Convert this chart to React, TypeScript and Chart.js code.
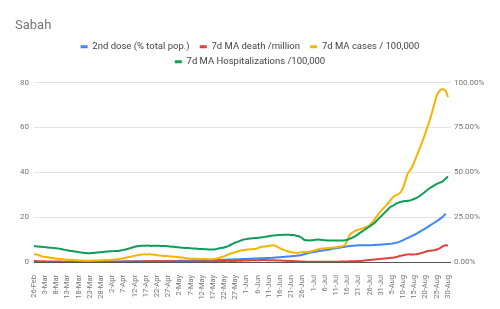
import React, { useEffect, useRef } from 'react';
import { Chart, registerables } from 'chart.js';

Chart.register(...registerables);

const TITLE = 'Sabah';
const MONTHS = ['Jan', 'Feb', 'Mar', 'Apr', 'May', 'Jun', 'Jul', 'Aug', 'Sep', 'Oct', 'Nov', 'Dec'];

const tickLabels = [
  '26-Feb', '3-Mar', '8-Mar', '13-Mar', '18-Mar', '23-Mar', '28-Mar', '2-Apr', '7-Apr', '12-Apr',
  '17-Apr', '22-Apr', '27-Apr', '2-May', '7-May', '12-May', '17-May', '22-May', '27-May', '1-Jun',
  '6-Jun', '11-Jun', '16-Jun', '21-Jun', '26-Jun', '1-Jul', '6-Jul', '11-Jul', '16-Jul', '21-Jul',
  '26-Jul', '31-Jul', '5-Aug', '10-Aug', '15-Aug', '20-Aug', '25-Aug', '30-Aug',
];

const seriesNames = [
  '2nd dose (% total pop.)',
  '7d MA death /million',
  '7d MA cases / 100,000',
  '7d MA Hospitalizations /100,000',
];

// 2nd dose, % of total population (right axis)
const secondDose = [
  0, 0, 0, 0, 0, 0, 0, 0, 0, 0,
  0, 0, 0, 0, 0, 0, 0, 0, 0, 0,
  0.02, 0.03, 0.05, 0.06, 0.08, 0.09, 0.1, 0.11, 0.12, 0.13,
  0.15, 0.16, 0.18, 0.19, 0.2, 0.22, 0.23, 0.24, 0.26, 0.27,
  0.28, 0.3, 0.31, 0.32, 0.33, 0.35, 0.36, 0.37, 0.38, 0.39,
  0.4, 0.41, 0.42, 0.43, 0.44, 0.45, 0.46, 0.47, 0.48, 0.5,
  0.52, 0.55, 0.57, 0.6, 0.62, 0.65, 0.67, 0.7, 0.72, 0.74,
  0.76, 0.78, 0.8, 0.82, 0.84, 0.86, 0.88, 0.9, 0.92, 0.95,
  1.0, 1.05, 1.1, 1.15, 1.2, 1.25, 1.3, 1.35, 1.4, 1.45,
  1.5, 1.55, 1.6, 1.65, 1.7, 1.75, 1.8, 1.85, 1.9, 1.95,
  2.0, 2.05, 2.1, 2.15, 2.2, 2.25, 2.3, 2.4, 2.5, 2.6,
  2.7, 2.8, 2.9, 3.0, 3.1, 3.2, 3.3, 3.45, 3.6, 3.75,
  4.0, 4.4, 4.8, 5.1, 5.4, 5.6, 5.8, 6.0, 6.2, 6.4,
  6.6, 6.8, 7.0, 7.3, 7.5, 7.7, 7.9, 8.1, 8.3, 8.5,
  8.7, 8.9, 9.0, 9.1, 9.2, 9.3, 9.3, 9.3, 9.3, 9.3,
  9.4, 9.4, 9.5, 9.6, 9.6, 9.7, 9.8, 9.9, 10.0, 10.1,
  10.3, 10.5, 10.8, 11.1, 11.6, 12.2, 12.9, 13.4, 14.0, 14.6,
  15.2, 15.8, 16.6, 17.3, 18.0, 18.8, 19.6, 20.4, 21.2, 22.0,
  22.8, 23.6, 24.6, 25.7, 26.9, null,
];

// 7-day MA deaths per million (left axis)
const deaths = [
  0.4, 0.4, 0.3, 0.3, 0.3, 0.3, 0.2, 0.2, 0.2, 0.2,
  0.2, 0.2, 0.2, 0.1, 0.1, 0.1, 0.1, 0.1, 0.1, 0.1,
  0.1, 0.1, 0.1, 0.1, 0.1, 0.1, 0.1, 0.1, 0.1, 0.1,
  0.1, 0.1, 0.1, 0.1, 0.1, 0.1, 0.1, 0.1, 0.1, 0.1,
  0.2, 0.2, 0.2, 0.2, 0.2, 0.2, 0.2, 0.2, 0.2, 0.2,
  0.3, 0.3, 0.3, 0.3, 0.3, 0.3, 0.3, 0.3, 0.3, 0.3,
  0.3, 0.3, 0.3, 0.3, 0.2, 0.2, 0.2, 0.2, 0.2, 0.2,
  0.2, 0.2, 0.2, 0.2, 0.2, 0.3, 0.3, 0.3, 0.3, 0.3,
  0.3, 0.3, 0.4, 0.4, 0.4, 0.4, 0.5, 0.5, 0.5, 0.5,
  0.5, 0.6, 0.6, 0.6, 0.7, 0.7, 0.7, 0.8, 0.8, 0.8,
  0.8, 0.8, 0.9, 0.9, 0.8, 0.8, 0.8, 0.8, 0.7, 0.7,
  0.7, 0.6, 0.6, 0.5, 0.5, 0.4, 0.4, 0.3, 0.3, 0.2,
  0.2, 0.2, 0.1, 0.1, 0.1, 0.1, 0.1, 0.1, 0.1, 0.1,
  0.1, 0.1, 0.1, 0.1, 0.1, 0.1, 0.1, 0.2, 0.2, 0.2,
  0.2, 0.3, 0.3, 0.3, 0.4, 0.5, 0.5, 0.6, 0.7, 0.8,
  0.9, 1.0, 1.1, 1.2, 1.3, 1.4, 1.5, 1.6, 1.7, 1.8,
  1.9, 2.0, 2.2, 2.6, 2.8, 3.0, 3.2, 3.4, 3.4, 3.4,
  3.4, 3.5, 3.7, 4.0, 4.2, 4.6, 4.9, 5.0, 5.1, 5.3,
  5.6, 6.0, 6.6, 7.2, 7.5, 7.3,
];

// 7-day MA cases per 100,000 (left axis)
const cases = [
  3.3, 3.4, 3.1, 2.7, 2.3, 2.2, 2.1, 2.0, 1.8, 1.7,
  1.5, 1.4, 1.3, 1.2, 1.1, 1.0, 0.9, 0.9, 0.8, 0.8,
  0.7, 0.7, 0.6, 0.6, 0.6, 0.6, 0.6, 0.7, 0.7, 0.7,
  0.8, 0.8, 0.9, 0.9, 1.0, 1.0, 1.1, 1.2, 1.3, 1.5,
  1.7, 1.9, 2.1, 2.3, 2.5, 2.8, 3.0, 3.2, 3.3, 3.4,
  3.4, 3.4, 3.4, 3.3, 3.2, 3.0, 2.9, 2.8, 2.7, 2.7,
  2.6, 2.5, 2.4, 2.3, 2.2, 2.1, 2.0, 1.9, 1.7, 1.6,
  1.5, 1.5, 1.4, 1.4, 1.3, 1.3, 1.3, 1.3, 1.2, 1.2,
  1.3, 1.3, 1.6, 1.9, 2.2, 2.6, 3.0, 3.4, 3.8, 4.1,
  4.4, 4.7, 5.0, 5.2, 5.4, 5.5, 5.6, 5.7, 5.8, 5.8,
  6.2, 6.6, 6.8, 6.9, 7.0, 7.2, 7.4, 7.5, 7.2, 6.6,
  6.1, 5.6, 5.2, 4.9, 4.6, 4.4, 4.2, 4.1, 4.0, 4.3,
  4.4, 4.5, 4.5, 4.6, 4.8, 5.1, 5.4, 5.7, 5.9, 6.0,
  6.1, 6.2, 6.3, 6.4, 6.5, 6.6, 6.8, 6.9, 7.1, 7.6,
  9.5, 11.9, 12.9, 13.6, 14.1, 14.4, 14.7, 15.0, 15.4, 15.8,
  16.5, 17.5, 18.7, 20.1, 21.5, 22.7, 23.8, 24.8, 25.9, 27.2,
  28.4, 29.3, 29.9, 30.3, 31.3, 33.3, 36.3, 39.5, 40.8, 42.5,
  44.8, 47.3, 49.8, 52.4, 55.0, 57.8, 60.8, 63.7, 67.2, 70.8,
  74.4, 76.0, 77.0, 77.0, 76.3, 73.5,
];

// 7-day MA hospitalizations per 100,000 (left axis)
const hospitalizations = [
  7.1, 7.0, 6.9, 6.8, 6.7, 6.6, 6.5, 6.4, 6.3, 6.2,
  6.1, 6.0, 5.8, 5.6, 5.4, 5.2, 5.0, 4.9, 4.7, 4.6,
  4.4, 4.2, 4.1, 4.0, 3.9, 3.9, 4.0, 4.1, 4.2, 4.3,
  4.4, 4.5, 4.6, 4.7, 4.8, 4.8, 4.9, 4.9, 5.0, 5.2,
  5.4, 5.6, 5.9, 6.2, 6.5, 6.8, 7.0, 7.1, 7.2, 7.2,
  7.3, 7.3, 7.2, 7.2, 7.3, 7.2, 7.2, 7.1, 7.1, 7.1,
  7.0, 6.9, 6.8, 6.7, 6.6, 6.5, 6.4, 6.3, 6.2, 6.2,
  6.1, 6.0, 6.0, 5.9, 5.8, 5.8, 5.7, 5.7, 5.6, 5.6,
  5.6, 5.7, 5.9, 6.1, 6.3, 6.5, 6.8, 7.2, 7.7, 8.2,
  8.7, 9.0, 9.4, 9.8, 10.1, 10.3, 10.4, 10.5, 10.6, 10.7,
  10.8, 10.9, 11.0, 11.2, 11.3, 11.5, 11.7, 11.8, 11.9, 12.0,
  12.0, 12.1, 12.1, 12.1, 12.1, 12.0, 12.0, 11.8, 11.6, 11.2,
  10.5, 9.8, 9.7, 9.6, 9.7, 9.8, 9.9, 10.0, 9.9, 9.8,
  9.7, 9.6, 9.6, 9.6, 9.6, 9.6, 9.6, 9.6, 9.6, 9.7,
  9.9, 10.3, 10.7, 11.2, 11.8, 12.5, 13.2, 13.9, 14.6, 15.2,
  15.9, 16.6, 17.3, 18.3, 19.3, 20.3, 21.3, 22.3, 23.3, 24.3,
  24.9, 25.5, 26.1, 26.5, 26.8, 27.1, 27.2, 27.3, 27.4, 27.8,
  28.2, 28.6, 29.2, 29.9, 30.7, 31.5, 32.3, 33.0, 33.6, 34.2,
  34.8, 35.3, 35.6, 36.3, 37.2, 38.1,
];

const leftTicks = [0, 20, 40, 60, 80];
const rightTicks = [0, 25, 50, 75, 100];

const colors = ['#4285F4', '#DB4437', '#F4B400', '#0F9D58'];

function buildDayLabels(count: number): string[] {
  const out: string[] = [];
  const d = new Date(Date.UTC(2021, 1, 26));
  for (let i = 0; i < count; i++) {
    out.push(`${d.getUTCDate()}-${MONTHS[d.getUTCMonth()]}`);
    d.setUTCDate(d.getUTCDate() + 1);
  }
  return out;
}

// adds a little space below the legend, before the plot area
const legendGap = {
  id: 'legendGap',
  afterInit(chart: any) {
    const lg = chart.legend;
    if (!lg) return;
    const orig = lg.fit.bind(lg);
    lg.fit = function () {
      orig();
      this.height += 6;
    };
  },
};

export default function App() {
  const canvasRef = useRef<HTMLCanvasElement | null>(null);

  useEffect(() => {
    const canvas = canvasRef.current;
    if (!canvas) return;
    const dayLabels = buildDayLabels(cases.length);
    const seriesData = [secondDose, deaths, cases, hospitalizations];
    const axes = ['y1', 'y', 'y', 'y'];
    const drawOrder = [4, 3, 2, 1];

    const chart = new Chart(canvas, {
      type: 'line',
      data: {
        labels: dayLabels,
        datasets: seriesNames.map((name, i) => ({
          label: name,
          data: seriesData[i],
          borderColor: colors[i],
          backgroundColor: colors[i],
          borderWidth: 2,
          pointRadius: 0,
          tension: 0.2,
          yAxisID: axes[i],
          order: drawOrder[i],
          spanGaps: false,
        })),
      },
      plugins: [legendGap],
      options: {
        animation: false,
        responsive: true,
        maintainAspectRatio: false,
        layout: { padding: { left: 15, right: 15, top: 0, bottom: 0 } },
        plugins: {
          tooltip: { enabled: false },
          title: {
            display: true,
            text: TITLE,
            align: 'start',
            color: '#757575',
            font: { family: 'Roboto', size: 13, weight: 'normal' },
            padding: { top: 18, bottom: 3 },
          },
          legend: {
            display: true,
            position: 'top',
            align: 'center',
            labels: {
              font: { family: 'Roboto', size: 9.5 },
              color: '#444444',
              boxWidth: 7,
              boxHeight: 3,
              padding: 5.5,
              sort: (a: any, b: any) => a.datasetIndex - b.datasetIndex,
              generateLabels: (ch: any) => {
                const items = Chart.defaults.plugins.legend.labels.generateLabels(ch);
                return items.map((it: any) => ({
                  ...it,
                  text: it.datasetIndex < 2 ? it.text + '  ' : it.text,
                  lineWidth: 0,
                  fillStyle: colors[it.datasetIndex],
                  strokeStyle: colors[it.datasetIndex],
                }));
              },
            },
          },
        },
        scales: {
          x: {
            type: 'category',
            grid: { display: false },
            border: { display: false },
            ticks: {
              autoSkip: false,
              minRotation: 90,
              maxRotation: 90,
              padding: 5,
              color: '#757575',
              font: { family: 'Roboto', size: 7.5 },
              callback: function (this: any, value: any) {
                const l = this.getLabelForValue(value);
                return tickLabels.includes(l) ? l : null;
              },
            },
            afterFit: (scale: any) => {
              scale.height = 47;
            },
          },
          y: {
            position: 'left',
            min: leftTicks[0],
            max: leftTicks[leftTicks.length - 1],
            border: { display: false },
            grid: {
              drawTicks: false,
              color: (ctx: any) => (ctx.tick && ctx.tick.value === 0 ? '#555555' : '#e2e2e2'),
              lineWidth: 1,
            },
            afterBuildTicks: (scale: any) => {
              scale.ticks = leftTicks.map((v) => ({ value: v }));
            },
            ticks: {
              padding: 5,
              color: '#757575',
              font: { family: 'Roboto', size: 8 },
            },
            afterFit: (scale: any) => {
              scale.width = 19;
            },
          },
          y1: {
            position: 'right',
            min: rightTicks[0],
            max: rightTicks[rightTicks.length - 1],
            border: { display: false },
            grid: {
              drawOnChartArea: false,
              drawTicks: true,
              tickLength: 3,
              color: (ctx: any) => (ctx.tick && ctx.tick.value === 0 ? '#555555' : '#e2e2e2'),
            },
            afterBuildTicks: (scale: any) => {
              scale.ticks = rightTicks.map((v) => ({ value: v }));
            },
            ticks: {
              padding: 3,
              color: '#757575',
              font: { family: 'Roboto', size: 8 },
              callback: (v: any) => Number(v).toFixed(2) + '%',
            },
            afterFit: (scale: any) => {
              scale.width = 37;
            },
          },
        },
      },
    });
    return () => chart.destroy();
  }, []);

  return (
    <div style={{ position: 'fixed', left: 0, top: 0, width: 500, height: 309, background: '#ffffff' }}>
      <canvas ref={canvasRef} />
    </div>
  );
}
